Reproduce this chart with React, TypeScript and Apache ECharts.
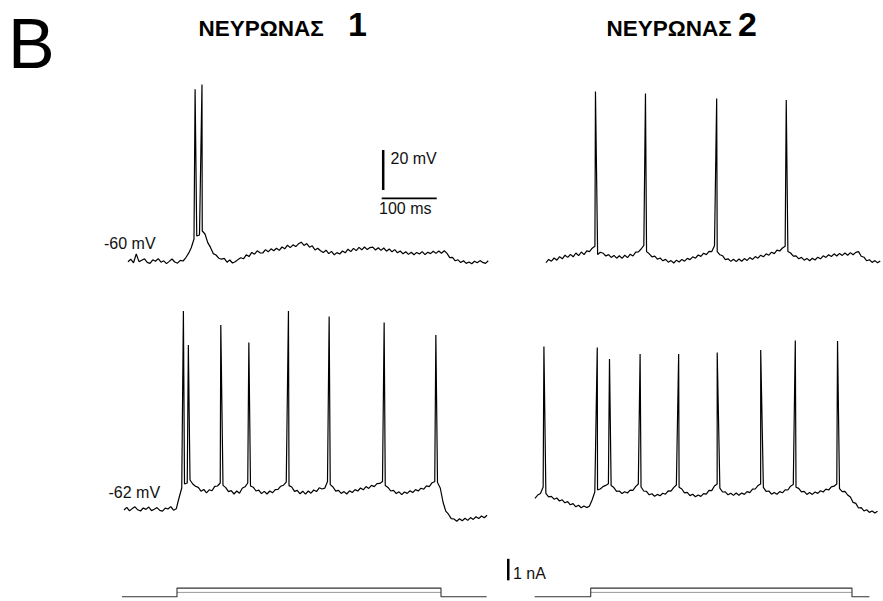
import React, { useEffect, useRef } from "react";
import * as echarts from "echarts";

// sampling interval of the voltage sweeps (ms)
const SAMPLE_MS = 5;

// Neuron 1, top sweep: membrane potential (mV), one value every 5 ms
const n1TopV = [
  -60.4, -59.1, -60.9, -56.5, -60.3, -59.6, -58.9, -60.7, -61.2, -59.4,
  -60.1, -58.8, -60.6, -59.9, -61.3, -60.2, -59.0, -60.5, -61.1, -59.7,
  -60.0, -58.4, -56.2, -53.4, -49.0, -47.5, -47.0, -45.0, -46.5,
  -50.8, -53.2, -56.3, -57.0, -58.6, -59.1, -58.7, -60.6, -59.5, -61.0, -60.4, -59.3,
  -58.4, -58.9, -56.9, -57.8, -55.7, -56.6, -54.9, -55.9, -56.0, -54.3, -55.4, -53.9,
  -54.9, -53.6, -54.7, -53.0, -53.9, -52.1, -53.3, -51.9, -52.8, -51.4, -50.6, -52.2,
  -51.3, -53.1, -52.4, -54.5, -53.6, -54.9, -55.8, -54.6, -56.3, -55.2, -56.9, -55.8,
  -56.5, -55.0, -55.9, -54.1, -55.3, -53.7, -54.8, -53.2, -54.4, -53.0, -54.3, -53.3,
  -53.1, -54.5, -53.4, -54.7, -53.5, -55.1, -54.0, -55.4, -54.3, -55.9, -55.0, -56.4,
  -55.4, -56.7, -55.6, -56.9, -55.7, -56.5, -55.3, -56.8, -55.6, -56.3, -55.1, -56.2,
  -55.0, -56.1, -54.9, -56.2, -58.3, -58.2, -59.9, -59.4, -60.8, -59.9, -61.2, -60.5,
  -61.4, -60.1, -60.9, -59.8, -60.7, -61.2, -59.9,
];
// spikes: [time ms, peak mV]
const n1TopSpikes = [
  [122, 25.9],
  [134.5, 28.3],
];

// Neuron 1, bottom sweep
const n1BottomV = [
  -62.5, -61.2, -62.9, -61.8, -60.9, -62.4, -63.0, -61.5, -62.2, -61.0,
  -62.8, -62.1, -61.3, -62.7, -63.1, -61.6, -62.0, -60.8, -62.6, -61.9,
  -56.5, -51.5, -49.5, -49.0, -47.5, -49.5,
  -50.6, -51.2, -53.1, -52.2, -53.9, -52.4, -52.9, -50.7, -50.5, -49.0,
  -50.2, -51.3, -53.3, -52.8, -54.5, -53.0, -54.1, -51.6, -50.9, -49.0,
  -50.5, -51.1, -53.0, -52.6, -54.3, -53.2, -54.5, -53.0, -53.9, -52.3, -52.2, -50.6, -50.1, -48.6,
  -50.3, -51.0, -53.2, -52.7, -54.4, -53.1, -54.6, -53.0, -54.1, -52.5, -53.3, -51.4, -52.0, -51.6, -48.3,
  -49.8, -51.0, -53.1, -52.7, -54.2, -53.3, -54.5, -52.9, -53.8, -52.3,
  -53.0, -51.5, -52.4, -50.8, -51.7, -50.2, -50.8, -49.3, -49.2, -48.2,
  -50.3, -51.2, -53.0, -52.7, -54.3, -53.4, -54.8, -53.5, -54.2, -52.9,
  -53.8, -52.3, -53.0, -51.6, -52.1, -50.4, -50.8, -48.9, -48.4, -48.8,
  -51.5, -58.5, -63.1, -64.6, -66.8, -67.0, -68.1, -66.9, -67.9, -66.6,
  -67.7, -66.3, -67.2, -65.9, -66.8, -65.5, -66.4, -65.1,
];
const n1BottomSpikes = [
  [108, 37],
  [117, 20],
  [176, 30],
  [227, 21.2],
  [299, 37],
  [373, 34.2],
  [473, 31.2],
  [567, 25],
];

// Neuron 2, top sweep
const n2TopV = [
  -60.8, -59.2, -60.1, -58.5, -59.6, -57.8, -58.9, -57.1, -58.2, -56.7,
  -57.9, -56.0, -57.3, -55.5, -56.8, -54.9, -55.3, -53.6,
  -52.6, -56.8, -55.6,
  -56.1, -57.5, -56.8, -58.2, -57.2, -58.6, -57.4, -58.7, -57.1, -58.3,
  -56.6, -57.5, -55.6, -55.4, -54.0,
  -52.2, -55.3,
  -56.4, -57.9, -57.6, -59.1, -58.5, -59.9, -59.2, -60.6, -59.8, -61.0,
  -59.6, -60.5, -59.2, -60.1, -58.7, -59.3, -57.9, -58.6, -57.0, -57.7,
  -56.1, -56.8, -55.2, -55.3,
  -52.4, -55.3,
  -56.9, -57.4, -59.3, -58.9, -60.2, -59.1, -60.3, -59.0, -60.1, -58.8,
  -59.7, -58.3, -59.2, -57.8, -58.6, -57.1, -57.9, -56.4, -57.1, -55.6,
  -56.3, -54.6, -55.0, -53.5,
  -52.6, -55.2,
  -56.0, -57.6, -57.4, -58.9, -58.2, -59.6, -58.7, -59.9, -58.6, -59.5,
  -58.1, -58.9, -57.4, -58.2, -56.9, -57.8, -56.4, -57.5, -56.2, -57.2,
  -56.0, -57.1, -55.8, -56.9, -55.7, -55.3,
  -57.6, -58.1, -59.9, -59.4, -60.7, -59.8, -60.9, -60.0,
];
const n2TopSpikes = [
  [91, 24.7],
  [183, 23.8],
  [314, 21.3],
  [442, 20.5],
];

// Neuron 2, bottom sweep
const n2BottomV = [
  -56.7, -55.0, -54.2, -51.0,
  -54.2, -55.9, -55.7, -57.1, -56.5, -58.0, -57.4, -58.9, -58.3, -59.9,
  -59.3, -60.9, -60.1, -61.4, -60.5, -61.3, -60.6,
  -57.5, -53.5, -52.4, -52.0, -50.8, -50.2, -49.4,
  -50.3, -51.3, -53.2, -53.0, -54.3, -53.4, -54.0, -52.6, -52.7, -50.8, -49.5,
  -51.0, -53.0, -53.2, -54.9, -54.4, -55.6, -54.7, -55.4, -54.1, -54.6,
  -52.9, -53.1, -51.3, -50.0,
  -51.1, -52.0, -53.9, -53.7, -55.3, -54.6, -55.9, -55.0, -55.7, -54.3,
  -54.6, -52.7, -52.8, -50.5, -49.5,
  -51.6, -53.5, -53.4, -54.9, -54.1, -55.2, -54.0, -55.1, -54.0, -54.7,
  -53.3, -53.8, -52.1, -52.0, -50.3, -49.5,
  -51.2, -53.2, -53.0, -54.6, -53.7, -54.6, -53.3, -53.9, -52.4, -52.5,
  -50.6, -49.8,
  -51.1, -51.7, -53.4, -53.2, -54.7, -53.8, -54.7, -53.5, -54.2, -52.9,
  -53.5, -52.1, -52.5, -50.9, -50.6, -49.5,
  -51.8, -53.3, -53.2, -55.0, -56.0, -58.7, -59.2, -61.5, -61.3, -63.0,
  -62.4, -63.7, -63.0, -64.0, -63.1,
];
const n2BottomSpikes = [
  [16.4, 19.2],
  [114.5, 18.8],
  [137, 13],
  [193.3, 15.5],
  [264.2, 15.5],
  [335.1, 16.2],
  [415.1, 17.5],
  [478.7, 22.2],
  [556.4, 22],
];

// injected current steps (nA): [time ms, current]
const n1Step = [
  [0, 0], [100, 0], [100, 0.4], [580, 0.4], [580, 0], [663, 0],
];
const n1StepLow = [
  [100, 0.2], [580, 0.2],
];
const n2Step = [
  [0, 0], [103, 0], [103, 0.4], [583, 0.4], [583, 0], [615, 0],
];
const n2StepLow = [
  [103, 0.2], [583, 0.2],
];

// scale bars
const mVBar = [[464, -24.5], [464, -4.5]]; // 20 mV
const msBar = [[461.3, -28.7], [561.3, -28.7]]; // 100 ms
const nABar = [[-48.5, 0.76], [-48.5, 1.76]]; // 1 nA

// texts
const panelLetter = "B";
const titleWord = "ΝΕΥΡΩΝΑΣ";
const neuronNumbers = ["1", "2"];
const restLabels = ["-60 mV", "-62 mV"];
const scaleLabels = ["20 mV", "100 ms", "1 nA"];

function trace(v: number[], spikes: number[][]) {
  const pts: number[][] = v.map((y, i) => [i * SAMPLE_MS, y]);
  spikes.forEach((s) => pts.push([s[0], s[1]]));
  pts.sort((a, b) => a[0] - b[0]);
  return pts;
}

const PX_PER_MS = 0.55;
const PX_PER_MV = 2;
const PX_PER_NA = 22;

function vGrid(left: number, xMax: number, top: number, yMin: number, yMax: number) {
  return {
    left,
    top,
    width: xMax * PX_PER_MS,
    height: (yMax - yMin) * PX_PER_MV,
  };
}

export default function App() {
  const ref = useRef<HTMLDivElement>(null);

  useEffect(() => {
    if (!ref.current) return;
    const chart = echarts.init(ref.current, undefined, { renderer: "svg" });

    const grids = [
      vGrid(128, 700, 71, -70, 35), // n1 top
      vGrid(546, 620, 71, -70, 35), // n2 top
      vGrid(124, 700, 305, -75, 40), // n1 bottom
      vGrid(535, 640, 305, -75, 40), // n2 bottom
      { left: 122, top: 553.7, width: 700 * PX_PER_MS, height: 2.2 * PX_PER_NA }, // n1 step
      { left: 502, top: 553.7, width: 700 * PX_PER_MS, height: 2.2 * PX_PER_NA }, // n2 step
    ];
    const xRanges = [
      [0, 700],
      [0, 620],
      [0, 700],
      [0, 640],
      [0, 700],
      [-60, 640],
    ];
    const yRanges = [
      [-70, 35],
      [-70, 35],
      [-75, 40],
      [-75, 40],
      [-0.2, 2.0],
      [-0.2, 2.0],
    ];

    const line = (
      idx: number,
      data: number[][],
      color = "#000",
      width = 1.2
    ) => ({
      type: "line",
      xAxisIndex: idx,
      yAxisIndex: idx,
      data,
      symbol: "none",
      showSymbol: false,
      clip: false,
      silent: true,
      lineStyle: { color, width },
    });

    const small = { fontFamily: "Liberation Sans", fontSize: 16, fill: "#111" };
    const title = { fontFamily: "Liberation Sans", fontWeight: "bold", fill: "#000" };

    chart.setOption({
      animation: false,
      backgroundColor: "#fff",
      grid: grids,
      xAxis: xRanges.map((r, i) => ({
        type: "value",
        gridIndex: i,
        min: r[0],
        max: r[1],
        show: false,
      })),
      yAxis: yRanges.map((r, i) => ({
        type: "value",
        gridIndex: i,
        min: r[0],
        max: r[1],
        show: false,
      })),
      series: [
        line(0, trace(n1TopV, n1TopSpikes)),
        line(1, trace(n2TopV, n2TopSpikes)),
        line(2, trace(n1BottomV, n1BottomSpikes)),
        line(3, trace(n2BottomV, n2BottomSpikes)),
        line(4, n1StepLow, "#9a9a9a", 1),
        line(4, n1Step, "#333", 1.1),
        line(5, n2StepLow, "#9a9a9a", 1),
        line(5, n2Step, "#333", 1.1),
        line(0, mVBar, "#000", 2.5),
        line(0, msBar, "#000", 1.8),
        line(5, nABar, "#000", 2.5),
      ],
      graphic: [
        {
          type: "text",
          x: 8,
          y: 43.7,
          style: {
            text: panelLetter,
            fontFamily: "Liberation Sans",
            fontSize: 70,
            fill: "#000",
            align: "left",
            verticalAlign: "middle",
          },
        },
        {
          type: "text",
          x: 198.5,
          y: 28.1,
          style: { ...title, text: titleWord, fontSize: 22.5, align: "left", verticalAlign: "middle" },
        },
        {
          type: "text",
          x: 348,
          y: 24.4,
          style: { ...title, text: neuronNumbers[0], fontSize: 34, align: "left", verticalAlign: "middle" },
        },
        {
          type: "text",
          x: 606.5,
          y: 28.1,
          style: { ...title, text: titleWord, fontSize: 22.5, align: "left", verticalAlign: "middle" },
        },
        {
          type: "text",
          x: 738,
          y: 24.4,
          style: { ...title, text: neuronNumbers[1], fontSize: 34, align: "left", verticalAlign: "middle" },
        },
        {
          type: "text",
          x: 104,
          y: 243.3,
          style: { ...small, text: restLabels[0], align: "left", verticalAlign: "middle" },
        },
        {
          type: "text",
          x: 108.5,
          y: 492.7,
          style: { ...small, text: restLabels[1], align: "left", verticalAlign: "middle" },
        },
        {
          type: "text",
          x: 390.5,
          y: 158.3,
          style: { ...small, text: scaleLabels[0], align: "left", verticalAlign: "middle" },
        },
        {
          type: "text",
          x: 379,
          y: 208.3,
          style: { ...small, text: scaleLabels[1], align: "left", verticalAlign: "middle" },
        },
        {
          type: "text",
          x: 513,
          y: 573,
          style: { ...small, text: scaleLabels[2], align: "left", verticalAlign: "middle" },
        },
      ],
    });

    return () => chart.dispose();
  }, []);

  return (
    <div
      ref={ref}
      style={{
        position: "fixed",
        left: 0,
        top: 0,
        width: 883,
        height: 601,
        background: "#fff",
      }}
    />
  );
}
